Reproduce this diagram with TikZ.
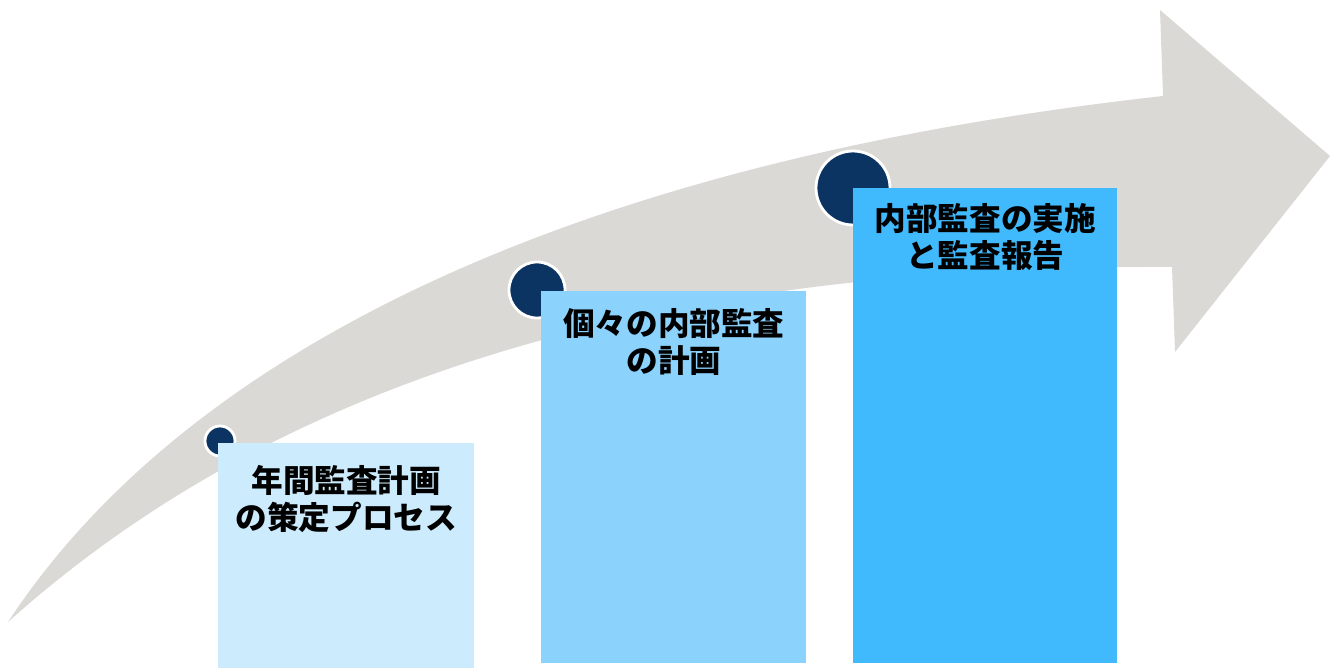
\documentclass[tikz,border=0pt]{standalone}
\usepackage{fontspec}
\newfontfamily\jp{Noto Sans CJK JP}
\definecolor{band}{HTML}{DAD9D6}
\definecolor{navy}{HTML}{0B3462}
\definecolor{stepA}{HTML}{CCEBFC}
\definecolor{stepB}{HTML}{8BD3FD}
\definecolor{stepC}{HTML}{41B9FD}
\begin{document}
\begin{tikzpicture}[x=0.02cm,y=-0.02cm,line join=round,
 dot/.style={circle,fill=navy,draw=white,line width=1.6pt,inner sep=0pt},
 stepbox/.style={rectangle,inner sep=0pt,anchor=north west},
 steptext/.style={anchor=north,inner sep=0pt,align=center,font=\jp\bfseries\fontsize{18}{21}\selectfont}]
 \useasboundingbox (0,0) rectangle (1338,668);
 % curved arrow
 \fill[band] (8,622) .. controls (160,390) and (500,170) .. (1163,96) -- (1160,10) -- (1330,156)
 -- (1175,352) -- (1172,267) .. controls (700,265) and (300,360) .. (8,622) -- cycle;
 \node[dot,minimum size=30*0.02cm] (d1) at (220,441) {};
 \node[dot,minimum size=56*0.02cm] (d2) at (537,290) {};
 \node[dot,minimum size=74*0.02cm] (d3) at (853,188) {};
 \node[stepbox,fill=stepA,minimum width=256*0.02cm,minimum height=225*0.02cm] (b1) at (218,443) {};
 \node[stepbox,fill=stepB,minimum width=265*0.02cm,minimum height=372*0.02cm] (b2) at (541,291) {};
 \node[stepbox,fill=stepC,minimum width=264*0.02cm,minimum height=475*0.02cm] (b3) at (853,188) {};
 \node[steptext] (t1) at ([yshift=-22*0.02cm]b1.north) {年間監査計画\\の策定プロセス};
 \node[steptext] (t2) at ([yshift=-17*0.02cm]b2.north) {個々の内部監査\\の計画};
 \node[steptext] (t3) at ([yshift=-15*0.02cm]b3.north) {内部監査の実施\\と監査報告};
\end{tikzpicture}
\end{document}
